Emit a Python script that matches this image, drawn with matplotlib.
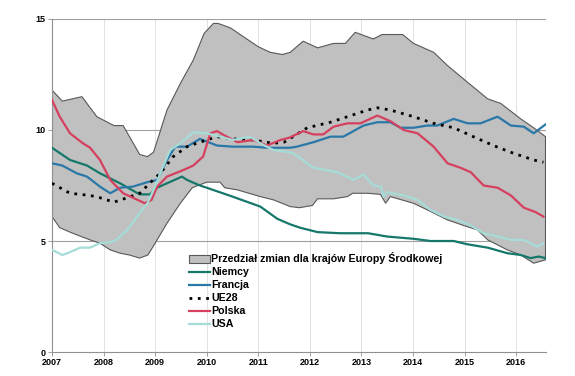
import numpy as np
import matplotlib
matplotlib.use("Agg")
import matplotlib.pyplot as plt
from matplotlib.patches import Patch
from matplotlib.lines import Line2D

plt.rcParams['font.family'] = ['Liberation Sans', 'DejaVu Sans']

# przedzial zmian (Europa Srodkowa) - gorna i dolna granica
upper_t = [2007.0, 2007.2, 2007.58, 2007.87, 2008.2, 2008.38, 2008.7, 2008.85, 2008.97, 2009.23,
           2009.49, 2009.74, 2009.95, 2010.13, 2010.22, 2010.46, 2010.84, 2011.0, 2011.23, 2011.47,
           2011.62, 2011.87, 2012.15, 2012.46, 2012.69, 2012.88, 2013.23, 2013.4, 2013.8, 2014.01,
           2014.4, 2014.67, 2014.98, 2015.45, 2015.7, 2016.09, 2016.34, 2016.57]
upper = [11.8, 11.3, 11.5, 10.6, 10.2, 10.2, 8.9, 8.8, 9.0, 10.9,
         12.1, 13.15, 14.35, 14.8, 14.8, 14.6, 14.0, 13.75, 13.5, 13.4,
         13.5, 14.0, 13.7, 13.9, 13.9, 14.4, 14.1, 14.3, 14.3, 13.9,
         13.5, 12.9, 12.3, 11.4, 11.2, 10.5, 10.1, 9.7]

lower_t = [2007.0, 2007.15, 2007.4, 2007.74, 2007.93, 2008.13, 2008.32, 2008.5, 2008.7, 2008.86,
           2009.0, 2009.23, 2009.49, 2009.72, 2010.0, 2010.07, 2010.26, 2010.35, 2010.6, 2011.04,
           2011.3, 2011.62, 2011.8, 2012.05, 2012.15, 2012.46, 2012.73, 2012.83, 2013.12, 2013.37,
           2013.47, 2013.56, 2014.01, 2014.28, 2014.67, 2014.98, 2015.25, 2015.45, 2015.83, 2016.09,
           2016.34, 2016.57]
lower = [6.1, 5.6, 5.35, 5.05, 4.9, 4.6, 4.45, 4.37, 4.23, 4.37,
         4.9, 5.8, 6.7, 7.4, 7.65, 7.65, 7.65, 7.4, 7.3, 7.0,
         6.85, 6.55, 6.5, 6.6, 6.9, 6.9, 7.0, 7.15, 7.15, 7.1,
         6.7, 7.0, 6.7, 6.4, 5.95, 5.7, 5.5, 5.05, 4.6, 4.37,
         4.0, 4.15]

niemcy_t = [2007.0, 2007.35, 2007.68, 2007.93, 2008.32, 2008.7, 2008.9, 2009.04, 2009.23, 2009.52,
            2009.62, 2009.87, 2010.0, 2010.5, 2011.04, 2011.37, 2011.62, 2011.81, 2012.15, 2012.59,
            2013.13, 2013.5, 2014.01, 2014.34, 2014.79, 2015.06, 2015.45, 2015.83, 2016.09, 2016.28,
            2016.44, 2016.57]
niemcy = [9.2, 8.65, 8.4, 8.05, 7.6, 7.1, 7.1, 7.4, 7.6, 7.9,
          7.75, 7.5, 7.4, 7.0, 6.55, 6.0, 5.75, 5.6, 5.4, 5.35,
          5.35, 5.2, 5.1, 5.0, 5.0, 4.85, 4.7, 4.45, 4.37, 4.23,
          4.3, 4.23]

francja_t = [2007.0, 2007.2, 2007.48, 2007.68, 2007.93, 2008.13, 2008.32, 2008.57, 2008.85, 2009.04,
             2009.23, 2009.39, 2009.62, 2009.87, 2010.2, 2010.5, 2010.9, 2011.17, 2011.62, 2011.75,
             2012.07, 2012.4, 2012.65, 2013.04, 2013.31, 2013.56, 2013.76, 2014.01, 2014.28, 2014.47,
             2014.79, 2015.06, 2015.31, 2015.64, 2015.9, 2016.15, 2016.34, 2016.57]
francja = [8.5, 8.4, 8.05, 7.9, 7.45, 7.15, 7.4, 7.45, 7.65, 7.75,
           8.65, 9.25, 9.25, 9.6, 9.3, 9.25, 9.25, 9.2, 9.2, 9.25,
           9.45, 9.7, 9.7, 10.2, 10.35, 10.35, 10.1, 10.1, 10.2, 10.2,
           10.5, 10.3, 10.3, 10.6, 10.2, 10.15, 9.85, 10.25]

ue28_t = [2007.0, 2007.35, 2007.74, 2007.93, 2008.2, 2008.46, 2008.7, 2008.96, 2009.1, 2009.35,
          2009.62, 2009.87, 2010.2, 2010.5, 2010.9, 2011.29, 2011.5, 2011.95, 2012.4, 2012.73,
          2013.12, 2013.31, 2013.56, 2014.01, 2014.4, 2014.79, 2015.17, 2015.56, 2015.95, 2016.34,
          2016.53]
ue28 = [7.6, 7.15, 7.05, 6.95, 6.75, 6.95, 7.15, 7.75, 8.05, 8.8,
        9.25, 9.45, 9.7, 9.6, 9.55, 9.4, 9.45, 10.1, 10.35, 10.6,
        10.9, 11.0, 10.9, 10.6, 10.3, 10.1, 9.7, 9.3, 8.95, 8.65,
        8.55]

polska_t = [2007.0, 2007.15, 2007.35, 2007.6, 2007.74, 2007.93, 2008.13, 2008.38, 2008.57, 2008.8,
            2008.93, 2009.04, 2009.23, 2009.55, 2009.74, 2009.93, 2010.07, 2010.2, 2010.35, 2010.6,
            2010.9, 2011.17, 2011.43, 2011.6, 2011.87, 2012.07, 2012.26, 2012.46, 2012.73, 2012.98,
            2013.31, 2013.56, 2013.82, 2014.09, 2014.4, 2014.67, 2014.92, 2015.12, 2015.37, 2015.64,
            2015.9, 2016.15, 2016.38, 2016.53]
polska = [11.35, 10.6, 9.85, 9.4, 9.2, 8.65, 7.75, 7.15, 6.95, 6.7,
          6.85, 7.45, 7.9, 8.2, 8.4, 8.8, 9.85, 9.95, 9.75, 9.45,
          9.55, 9.3, 9.55, 9.65, 9.95, 9.8, 9.8, 10.15, 10.3, 10.3,
          10.65, 10.4, 10.0, 9.85, 9.25, 8.5, 8.3, 8.1, 7.5, 7.4,
          7.05, 6.5, 6.3, 6.1]

usa_t = [2007.0, 2007.2, 2007.3, 2007.55, 2007.74, 2007.93, 2008.13, 2008.25, 2008.46, 2008.65,
         2008.85, 2008.97, 2009.1, 2009.29, 2009.49, 2009.74, 2010.0, 2010.26, 2010.5, 2010.84,
         2011.04, 2011.29, 2011.6, 2011.68, 2012.07, 2012.53, 2012.85, 2013.04, 2013.23, 2013.38,
         2013.43, 2013.5, 2013.82, 2014.09, 2014.34, 2014.6, 2014.86, 2015.12, 2015.37, 2015.64,
         2015.9, 2016.15, 2016.28, 2016.41, 2016.53]
usa = [4.6, 4.37, 4.45, 4.7, 4.7, 4.9, 4.95, 5.05, 5.5, 6.1,
       6.7, 7.3, 8.05, 9.1, 9.4, 9.9, 9.85, 9.7, 9.55, 9.7,
       9.4, 9.1, 9.0, 8.95, 8.3, 8.1, 7.75, 8.0, 7.5, 7.45,
       7.0, 7.2, 7.05, 6.85, 6.4, 6.1, 5.95, 5.7, 5.35, 5.2,
       5.05, 5.05, 4.9, 4.75, 4.9]

lata = list(range(2007, 2017))

fig = plt.figure(figsize=(5.75, 3.76), dpi=100)
ax = fig.add_axes([0.0904, 0.0638, 0.8592, 0.8857])

# pasmo szare
ax.fill(np.r_[upper_t, lower_t[::-1]], np.r_[upper, lower[::-1]],
        facecolor='#c0c0c0', edgecolor='#585858', lw=0.8, zorder=2)

kol_niemcy = '#15786a'
kol_francja = '#2a78a8'
kol_polska = '#d5405f'
kol_usa = '#a6dcd8'

ax.plot(niemcy_t, niemcy, color=kol_niemcy, lw=1.6, zorder=3)
ax.plot(francja_t, francja, color=kol_francja, lw=1.6, zorder=3)
ax.plot(ue28_t, ue28, color='black', lw=2.0, ls=(0, (1, 2)), zorder=3)
ax.plot(polska_t, polska, color=kol_polska, lw=1.6, zorder=3)
ax.plot(usa_t, usa, color=kol_usa, lw=1.6, zorder=3)

ax.set_xlim(2007, 2016.58)
ax.set_ylim(0, 15)
ax.set_xticks(lata)
ax.set_yticks([0, 5, 10, 15])
ax.set_xticklabels([str(r) for r in lata], fontsize=6.5, fontweight='bold')
ax.set_yticklabels(['0', '5', '10', '15'], fontsize=6.5, fontweight='bold')
ax.tick_params(axis='both', length=3, width=0.6, color='#909090', pad=1.5)

# siatka
for r in lata[1:]:
    ax.axvline(r, color='#e2e2e2', lw=0.7, zorder=0)
for v in [5, 10, 15]:
    ax.axhline(v, color='#a0a0a0', lw=0.8, zorder=1)

for s in ['top', 'right']:
    ax.spines[s].set_visible(False)
for s in ['left', 'bottom']:
    ax.spines[s].set_color('#909090')
    ax.spines[s].set_linewidth(0.8)

uchwyty = [Patch(facecolor='#c0c0c0', edgecolor='#585858', lw=0.8),
           Line2D([], [], color=kol_niemcy, lw=1.6),
           Line2D([], [], color=kol_francja, lw=1.6),
           Line2D([], [], color='black', lw=2.0, ls=(0, (1, 2))),
           Line2D([], [], color=kol_polska, lw=1.6),
           Line2D([], [], color=kol_usa, lw=1.6)]
etykiety = ['Przedział zmian dla krajów Europy Środkowej', 'Niemcy', 'Francja', 'UE28', 'Polska', 'USA']
leg = ax.legend(uchwyty, etykiety, loc='upper left', bbox_to_anchor=(182 / 575, 1 - 245 / 376),
                bbox_transform=fig.transFigure, frameon=False,
                prop={'size': 7.7, 'weight': 'bold'}, handlelength=1.9, handletextpad=0.15,
                labelspacing=0.28, borderpad=0.2, handleheight=0.8)

fig.savefig('out.png', dpi=100)
